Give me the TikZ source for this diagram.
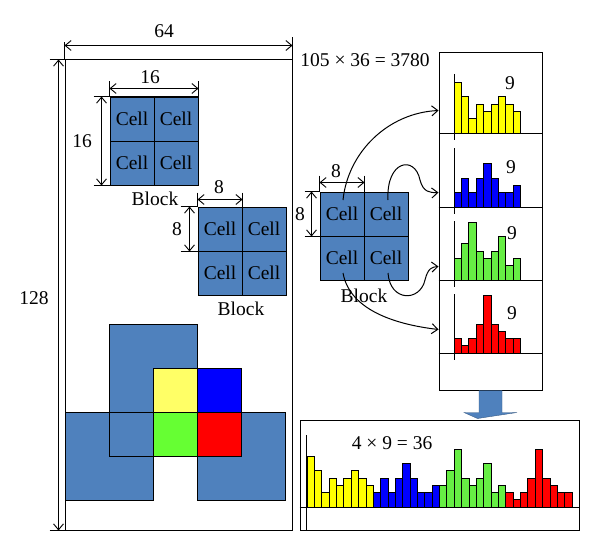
\documentclass[tikz,border=0pt]{standalone}
\usepackage{fontspec}
\setmainfont{Liberation Serif}
\usetikzlibrary{arrows.meta,calc}
\definecolor{steel}{HTML}{4F81BD}
\definecolor{cy}{HTML}{FFFF66}
\definecolor{cg}{HTML}{66FF33}
\definecolor{hy}{HTML}{FFFF00}
\definecolor{hb}{HTML}{0000FF}
\definecolor{hg}{HTML}{66EE44}
\definecolor{hr}{HTML}{FF0000}
\begin{document}
\begin{tikzpicture}[x=1pt,y=-1pt,line width=1pt,
  barb/.tip={Straight Barb[length=6pt,width=10pt]},
  dimarrow/.style={barb-barb,line width=0.9pt},
  extline/.style={line width=0.9pt},
  cellbox/.style={draw,fill=steel,minimum width=44pt,minimum height=44pt,inner sep=0pt,font=\fontsize{19.5}{19.5}\selectfont},
  lbl/.style={font=\fontsize{19.5}{19.5}\selectfont,inner sep=0pt},
  bar/.style={draw,line width=0.7pt},
  curvearrow/.style={-barb,line width=1pt},
  frame/.style={draw,inner sep=0pt,line width=1pt}]
\useasboundingbox (0,0) rectangle (600,551);

% main window
\node[frame,minimum width=227pt,minimum height=470pt] (main) at (178.5,295) {};

% dimension 64
\coordinate (d64a) at ($(main.north west)+(0,-14)$);
\coordinate (d64b) at ($(main.north east)+(0,-14)$);
\draw[extline] ($(main.north west)+(0,-17)$) -- (main.north west);
\draw[extline] ($(main.north east)+(0,-22)$) -- (main.north east);
\draw[dimarrow] (d64a) -- (d64b);
\node[lbl] (l64) at (164,31) {64};

% dimension 128
\coordinate (d128a) at ($(main.north west)+(-6,0)$);
\coordinate (d128b) at ($(main.south west)+(-6,0)$);
\draw[extline] ($(main.north west)+(-15,0)$) -- (main.north west);
\draw[extline] ($(main.south west)+(-15,0)$) -- (main.south west);
\draw[dimarrow] (d128a) -- (d128b);
\node[lbl] (l128) at (34,298) {128};

% block 1
\node[cellbox] (b1a) at (132,119) {Cell};
\node[cellbox] (b1b) at (176,119) {Cell};
\node[cellbox] (b1c) at (132,163) {Cell};
\node[cellbox] (b1d) at (176,163) {Cell};
\draw[extline] ($(b1a.north west)+(0,-15)$) -- (b1a.north west);
\draw[extline] ($(b1b.north east)+(0,-15)$) -- (b1b.north east);
\draw[dimarrow] ($(b1a.north west)+(0,-8)$) -- ($(b1b.north east)+(0,-8)$);
\node[lbl] (l16a) at (150,77) {16};
\draw[extline] ($(b1a.north west)+(-16,0)$) -- (b1a.north west);
\draw[extline] ($(b1c.south west)+(-16,0)$) -- (b1c.south west);
\draw[dimarrow] ($(b1a.north west)+(-8,0)$) -- ($(b1c.south west)+(-8,0)$);
\node[lbl] (l16b) at (82,141) {16};
\node[lbl] (blk1) at (155,199) {Block};

% block 2
\node[cellbox] (b2a) at (220,229) {Cell};
\node[cellbox] (b2b) at (264,229) {Cell};
\node[cellbox] (b2c) at (220,273) {Cell};
\node[cellbox] (b2d) at (264,273) {Cell};
\draw[extline] ($(b2a.north west)+(0,-14)$) -- (b2a.north west);
\draw[extline] ($(b2a.north east)+(0,-14)$) -- (b2a.north east);
\draw[dimarrow] ($(b2a.north west)+(0,-7)$) -- ($(b2a.north east)+(0,-7)$);
\node[lbl] (l8a) at (219,187) {8};
\draw[extline] ($(b2a.north west)+(-17,0)$) -- (b2a.north west);
\draw[extline] ($(b2a.south west)+(-17,0)$) -- (b2a.south west);
\draw[dimarrow] ($(b2a.north west)+(-8,0)$) -- ($(b2a.south west)+(-8,0)$);
\node[lbl] (l8b) at (177,229) {8};
\node[lbl] (blk2) at (241,309) {Block};

% block 3
\node[cellbox] (b3a) at (342,214) {Cell};
\node[cellbox] (b3b) at (386,214) {Cell};
\node[cellbox] (b3c) at (342,258) {Cell};
\node[cellbox] (b3d) at (386,258) {Cell};
\draw[extline] ($(b3a.north west)+(0,-16)$) -- (b3a.north west);
\draw[extline] ($(b3a.north east)+(0,-16)$) -- (b3a.north east);
\draw[dimarrow] ($(b3a.north west)+(0,-9)$) -- ($(b3a.north east)+(0,-9)$);
\node[lbl] (l8c) at (336,171) {8};
\draw[extline] ($(b3a.north west)+(-15,0)$) -- (b3a.north west);
\draw[extline] ($(b3a.south west)+(-15,0)$) -- (b3a.south west);
\draw[dimarrow] ($(b3a.north west)+(-8,0)$) -- ($(b3a.south west)+(-8,0)$);
\node[lbl] (l8d) at (300,214) {8};
\node[lbl] (blk3) at (364,296) {Block};

% overlapping blocks in the window
\draw[fill=steel] (109,324) rectangle (197,412);
\draw[fill=steel] (65,412) rectangle (153,500);
\draw[fill=steel] (197,412) rectangle (285,500);
\draw[fill=cy] (153,368) rectangle (197,412);
\draw[fill=hb] (197,368) rectangle (241,412);
\draw[fill=cg] (153,412) rectangle (197,456);
\draw[fill=hr] (197,412) rectangle (241,456);
\draw (109,412) -- (109,456) -- (153,456);

% histogram column
\node[frame,minimum width=103pt,minimum height=337pt] (hbox) at (490.5,221.5) {};
\node[lbl] (total) at (365,60) {105 × 36 = 3780};

\foreach \base/\col/\hs in {133/hy/{7,5,2,4,3,4,5,4,3},207/hb/{2,4,2,4,6,4,2,2,3},280/hg/{3,5,8,4,3,4,6,2,3},353/hr/{2,1,2,4,8,4,3,2,2}}{
  \foreach \h [count=\i from 0] in \hs
    \draw[bar,fill=\col] ({454+\i*7.4},\base) rectangle ({454+(\i+1)*7.4},{\base-\h*7.25});
  \draw ($(hbox.west)+(0,\base-221.5)$) -- ($(hbox.east)+(0,\base-221.5)$);
  \draw (454,{\base-59}) -- (454,{\base+7});
}
\node[lbl] (n1) at (510,83) {9};
\node[lbl] (n2) at (511,167) {9};
\node[lbl] (n3) at (512,233) {9};
\node[lbl] (n4) at (512,313) {9};

% curved arrows
\coordinate (t1) at ($(hbox.north west)+(0,58)$);
\coordinate (t2) at ($(hbox.north west)+(0,140)$);
\coordinate (t3) at ($(hbox.north west)+(0,214)$);
\coordinate (t4) at ($(hbox.north west)+(0,277)$);
\draw[curvearrow] ($(b3a.center)+(1,-14)$) .. controls (348,152) and (388,113) .. (t1);
\draw[curvearrow] ($(b3b.center)+(2,-14)$) .. controls (386,160) and (415,155) .. (420,180) .. controls (423,192) and (430,193) .. (t2);
\draw[curvearrow] ($(b3d.center)+(2,15)$) .. controls (390,302) and (420,302) .. (425,280) .. controls (428,268) and (432,267) .. (t3);
\draw[curvearrow] ($(b3c.center)+(1,15)$) .. controls (350,312) and (400,325) .. (t4);

% combined histogram
\node[frame,minimum width=279pt,minimum height=110pt] (cbox) at (439.5,475) {};
\foreach \k/\col/\hs in {0/hy/{7,5,2,4,3,4,5,4,3},1/hb/{2,4,2,4,6,4,2,2,3},2/hg/{3,5,8,4,3,4,6,2,3},3/hr/{2,1,2,4,8,4,3,2,2}}{
  \foreach \h [count=\i from 0] in \hs
    \draw[bar,fill=\col] ({307+(\k*9+\i)*7.36},507) rectangle ({307+(\k*9+\i+1)*7.36},{507-\h*7.25});
}
\draw ($(cbox.west)+(0,32)$) -- ($(cbox.east)+(0,32)$);
\draw ($(cbox.south west)+(7,0)$) -- ($(cbox.north west)+(7,15)$);
\node[lbl] (comb) at (392,443) {4 × 9 = 36};

% block arrow between the two boxes
\fill[steel,draw=steel!70!black,line width=0.4pt]
  ($(hbox.south)+(-11.5,0)$) -- ($(hbox.south)+(11.5,0)$) -- ($(hbox.south)+(11.5,22)$)
  -- ($(hbox.south)+(26.5,22)$) -- ($(cbox.north)+(38,-1)$)
  -- ($(hbox.south)+(-26.5,22)$) -- ($(hbox.south)+(-11.5,22)$) -- cycle;
\end{tikzpicture}
\end{document}
